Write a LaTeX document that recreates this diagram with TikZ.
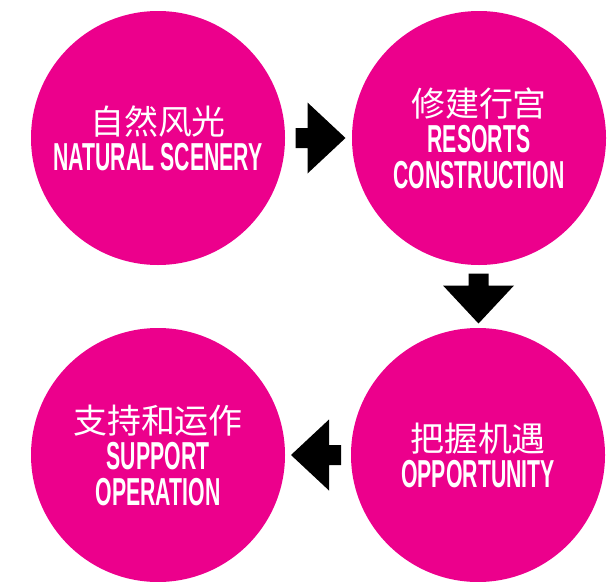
\documentclass[tikz,border=0pt]{standalone}
\usepackage{fontspec}
\setmainfont{Liberation Sans}
\newfontfamily\condfont{Liberation Sans Bold}[FakeStretch=0.545]
\newfontfamily\cjk{Noto Sans CJK SC}[Scale=0.87]
\usetikzlibrary{calc}
\definecolor{hotpink}{RGB}{236,0,140}
\def\blockarrow[#1](#2)(#3){\fill[shift={($(#2)!0.5!(#3)$)},rotate=#1] (-23,-10) -- (-11,-10) -- (-11,-35.5) -- (27,0) -- (-11,35.5) -- (-11,10) -- (-23,10) -- cycle;}
\tikzset{
	bubble/.style={circle, fill=hotpink, minimum size=254pt, inner sep=0pt, text=white, align=center, font=\condfont\fontsize{39}{36}\selectfont}
}

\begin{document}
\begin{tikzpicture}[x=1pt,y=-1pt]
				\useasboundingbox (0,0) rectangle (607,581);
				
				\node[bubble] (nature) at (158,138) {{\cjk 自然风光}\\NATURAL SCENERY};
				\node[bubble] (resorts) at (479,138) {{\cjk 修建行宫}\\RESORTS\\CONSTRUCTION};
				\node[bubble] (chance) at (478,455) {{\cjk 把握机遇}\\OPPORTUNITY};
				\node[bubble] (support) at (158,455) {{\cjk 支持和运作}\\SUPPORT\\OPERATION};
				
				\blockarrow[0](nature)(resorts);
				\blockarrow[-90](resorts)(chance);
				\blockarrow[180](chance.west)(support.east);
			\end{tikzpicture}
\end{document}
